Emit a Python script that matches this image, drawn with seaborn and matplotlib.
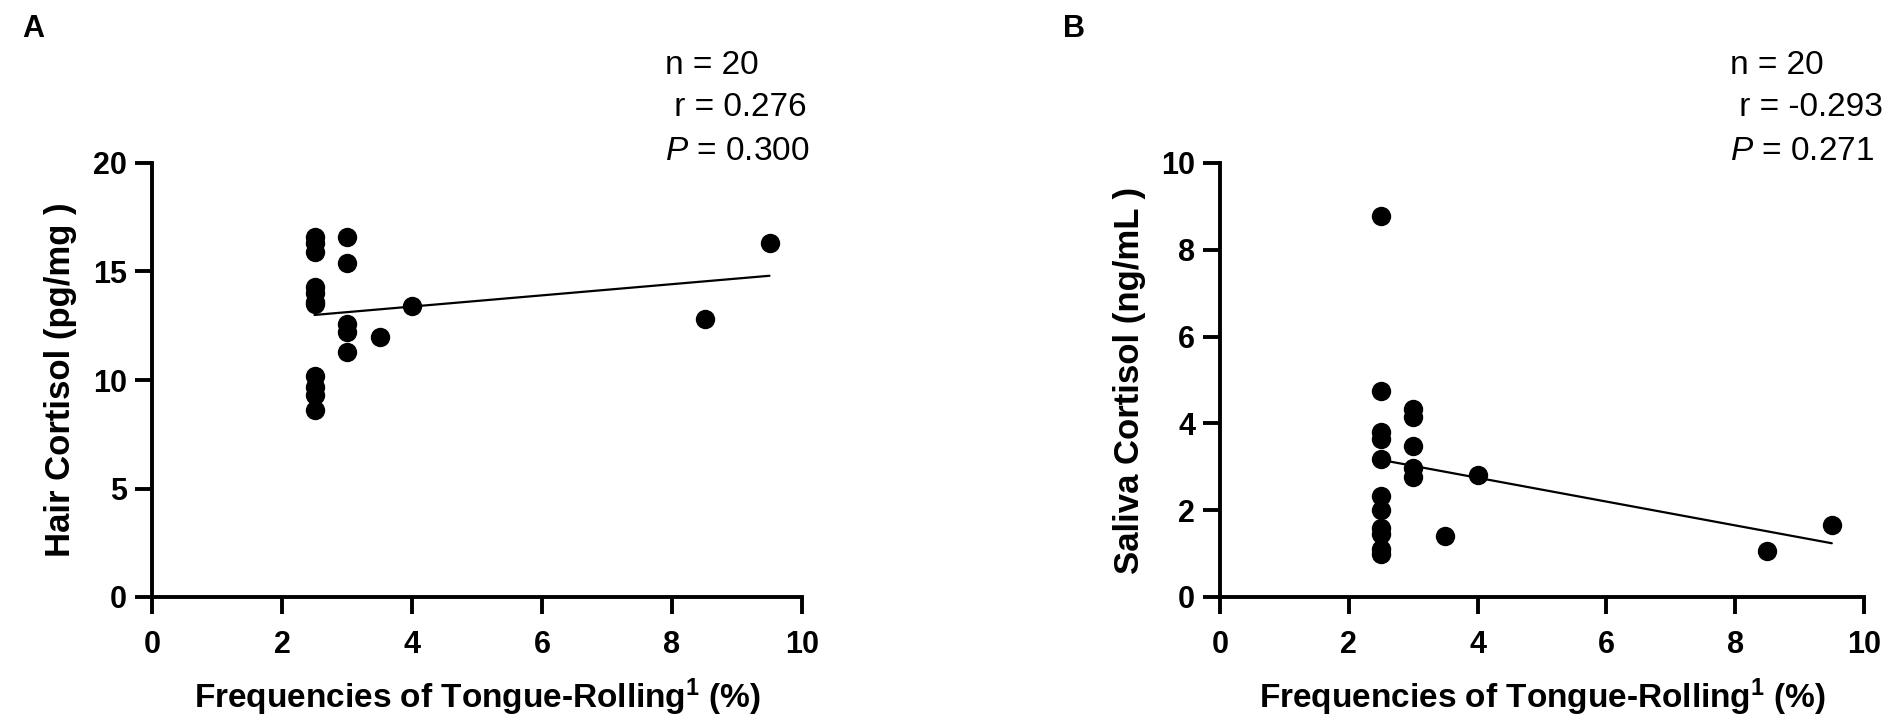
import matplotlib
matplotlib.use("Agg")
import matplotlib.pyplot as plt
import seaborn as sns
import numpy as np

# ---- data ----
tongue_rolling = [2.5, 2.5, 2.5, 2.5, 2.5, 2.5, 2.5, 2.5, 2.5, 2.5, 2.5,
                  3.0, 3.0, 3.0, 3.0, 3.0, 3.5, 4.0, 8.5, 9.5]
hair_cortisol = [16.6, 16.3, 15.9, 14.3, 14.0, 13.6, 13.5, 10.2, 9.7, 9.3, 8.6,
                 16.6, 15.4, 12.6, 12.2, 11.3, 12.0, 13.4, 12.8, 16.3]
saliva_cortisol = [8.78, 4.74, 3.8, 3.65, 3.18, 2.33, 2.0, 1.6, 1.45, 1.1, 1.0,
                   4.34, 4.15, 3.47, 2.98, 2.77, 1.4, 2.8, 1.05, 1.65]

stats_a = ["n = 20", " r = 0.276", r"$\mathit{P}$ = 0.300"]
stats_b = ["n = 20", " r = -0.293", r"$\mathit{P}$ = 0.271"]
xlabel = r"Frequencies of Tongue-Rolling$^{\mathbf{1}}$ (%)"
ylabel_a = "Hair Cortisol (pg/mg )"
ylabel_b = "Saliva Cortisol (ng/mL )"
xticks = [0, 2, 4, 6, 8, 10]
yticks_a = [0, 5, 10, 15, 20]
yticks_b = [0, 2, 4, 6, 8, 10]

sns.set_style("ticks")
plt.rcParams["font.family"] = ["Liberation Sans", "DejaVu Sans"]
plt.rcParams["mathtext.fontset"] = "custom"
plt.rcParams["mathtext.rm"] = "Liberation Sans"
plt.rcParams["mathtext.it"] = "Liberation Sans:italic"
plt.rcParams["mathtext.bf"] = "Liberation Sans:bold"
for k in ["text.color", "axes.labelcolor", "xtick.color", "ytick.color", "axes.edgecolor"]:
    plt.rcParams[k] = "black"

W, H = 1901, 727
fig = plt.figure(figsize=(W / 100, H / 100), dpi=100)

def px_axes(left, right, top, bottom):
    return fig.add_axes([left / W, 1 - bottom / H, (right - left) / W, (bottom - top) / H])

ax_a = px_axes(152, 802, 163, 597)
ax_b = px_axes(1220, 1864, 163, 597)

def style(ax, y, yticks, ylabel):
    sns.regplot(x=tongue_rolling, y=y, ax=ax, ci=None,
                scatter_kws=dict(s=195, color="black", linewidths=0, clip_on=False, alpha=1),
                line_kws=dict(color="black", lw=1.6))
    ax.set_xlim(0, 10)
    ax.set_ylim(yticks[0], yticks[-1])
    ax.set_xticks(xticks)
    ax.set_yticks(yticks)
    for s in ["top", "right"]:
        ax.spines[s].set_visible(False)
    for s in ["left", "bottom"]:
        ax.spines[s].set_linewidth(2.8)
        ax.spines[s].set_color("black")
        ax.spines[s].set_capstyle("projecting")
    ax.tick_params(axis="both", width=2.8, length=12, labelsize=22, direction="out",
                   color="black", labelcolor="black")
    ax.tick_params(axis="x", pad=12)
    ax.tick_params(axis="y", pad=6)
    for lbl in ax.get_xticklabels() + ax.get_yticklabels():
        lbl.set_fontweight("bold")
    ax.set_xlabel(xlabel, fontsize=24, fontweight="bold", va="center", color="black")
    ax.xaxis.set_label_coords(0.5, -0.232)
    ax.set_ylabel(ylabel, fontsize=25, fontweight="bold", va="center", color="black")
    ax.yaxis.set_label_coords(-0.141, 0.5)

style(ax_a, hair_cortisol, yticks_a, ylabel_a)
style(ax_b, saliva_cortisol, yticks_b, ylabel_b)

for x0, lines in [(665, stats_a), (1730, stats_b)]:
    for yy, t in zip([66, 108, 152], lines):
        fig.text(x0 / W, 1 - yy / H, t, fontsize=24, ha="left", va="center", color="black")

fig.text(33 / W, 1 - 29 / H, "A", fontsize=22, fontweight="bold", ha="center", va="center", color="black")
fig.text(1074 / W, 1 - 29 / H, "B", fontsize=22, fontweight="bold", ha="center", va="center", color="black")

fig.savefig("out.png", dpi=100, facecolor="white")
